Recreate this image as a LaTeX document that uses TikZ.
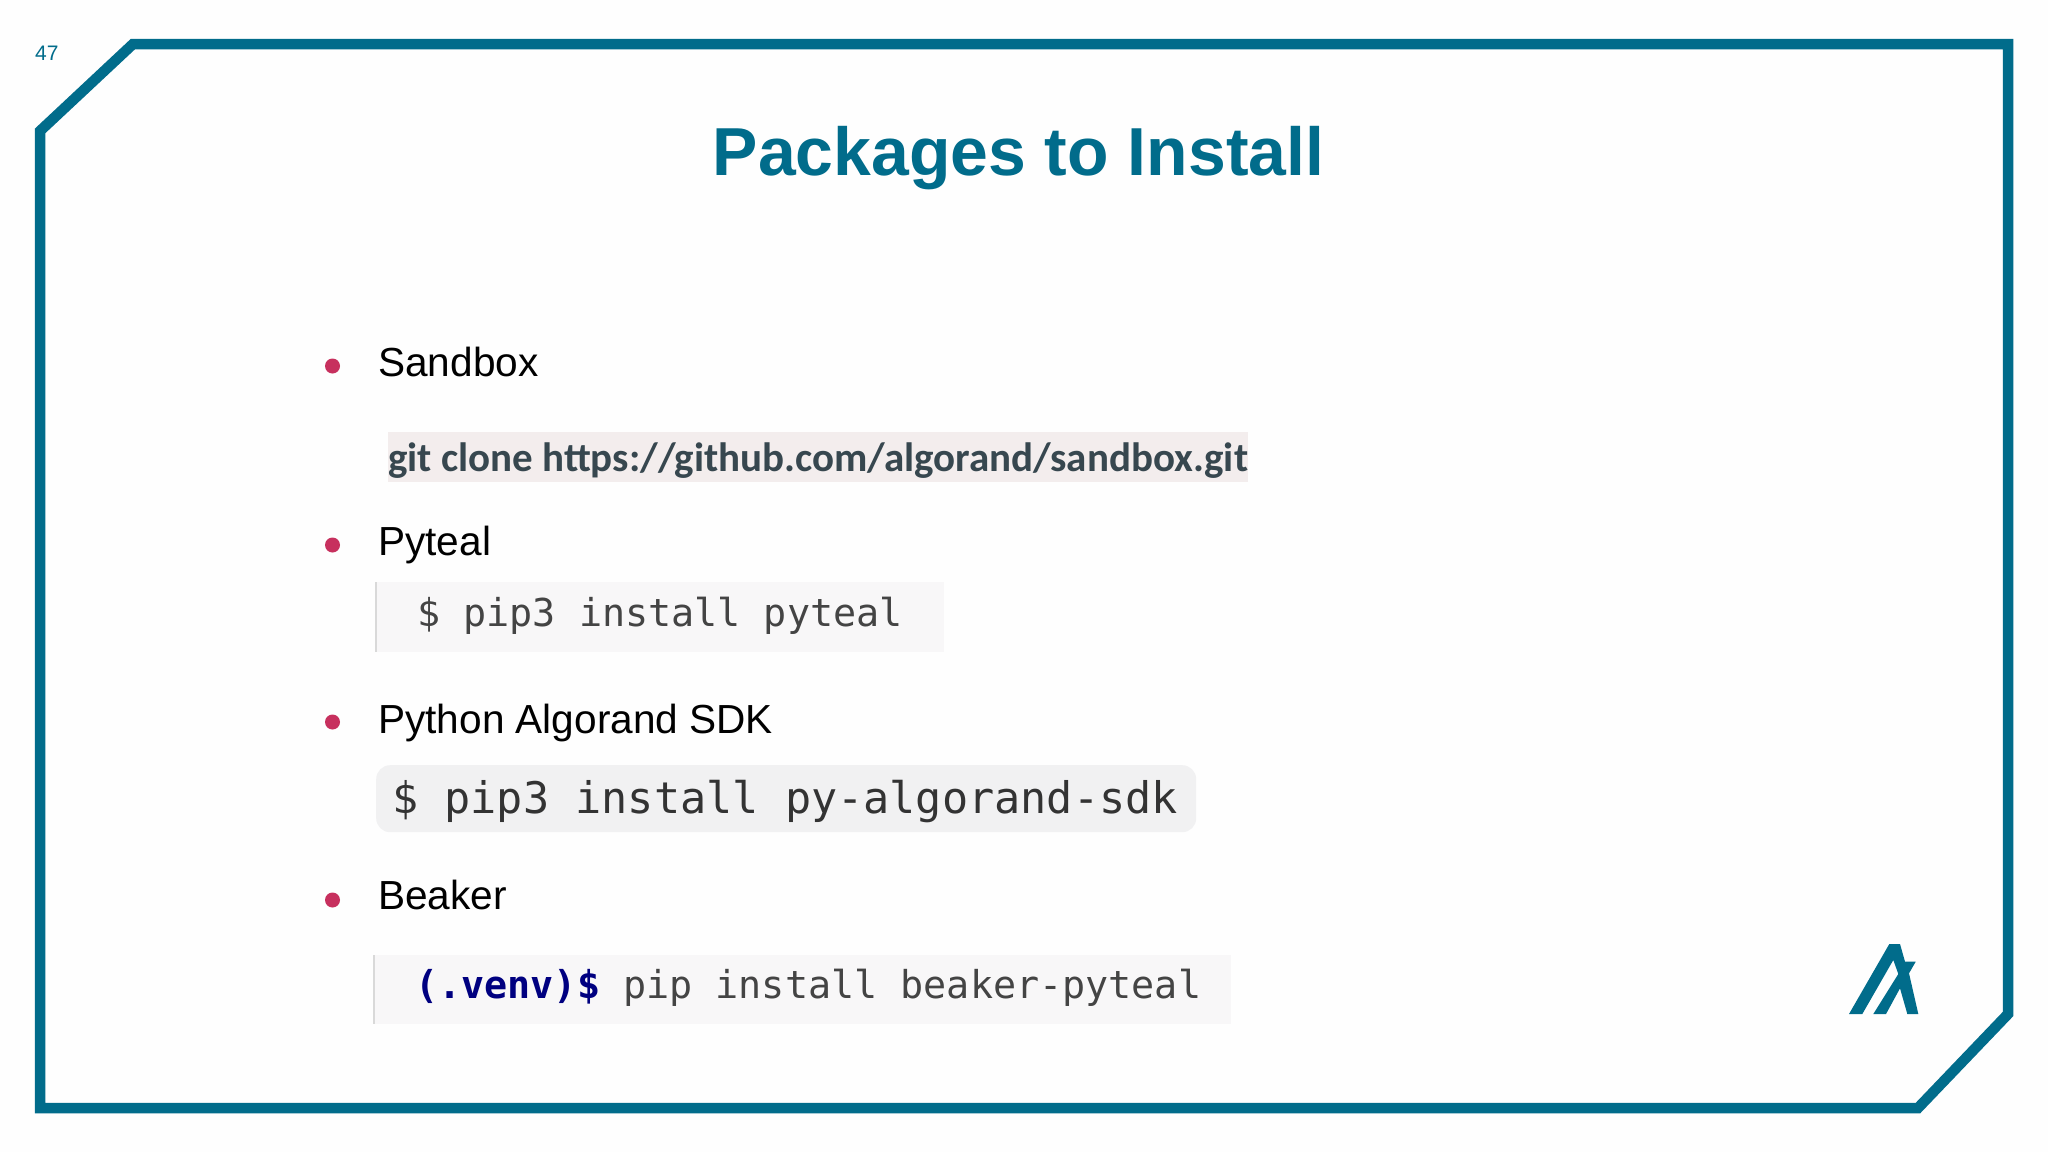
\documentclass[tikz,border=0pt]{standalone}
\usepackage{fontspec}
\setmainfont{Liberation Sans}
\newfontfamily\codefont{DejaVu Sans Mono}
\newfontfamily\gitfont{Carlito}
\definecolor{frameteal}{HTML}{016C8B}
\definecolor{bulletred}{HTML}{C7305E}
\definecolor{gitfill}{HTML}{F3EDED}
\definecolor{gittext}{HTML}{37474F}
\definecolor{codefill}{HTML}{F8F7F8}
\definecolor{sdkfill}{HTML}{F1F1F2}
\definecolor{codetext}{HTML}{444444}
\definecolor{promptblue}{HTML}{000080}
\definecolor{slidebg}{HTML}{FEFEFE}
\tikzset{
  bulletdot/.style={circle, fill=bulletred, minimum size=15pt, inner sep=0pt},
  itemtext/.style={anchor=base west, inner sep=0pt, font=\fontsize{40.6}{48}\selectfont},
  codebox/.style={anchor=north west, inner sep=0pt, fill=codefill},
  codeline/.style={anchor=base west, inner sep=0pt, text=codetext, font=\codefont\fontsize{38.4}{46}\selectfont}
}
\begin{document}
\begin{tikzpicture}[x=1pt, y=-1pt]
  \useasboundingbox (0,0) rectangle (2048,1152);
  \fill[slidebg] (0,0) rectangle (2048,1152);

  \draw[frameteal, line width=10.5pt, miter limit=4]
    (133,44) -- (2008,44) -- (2008,1014) -- (1918,1108) -- (40,1108) -- (40,131) -- cycle;
  \fill[frameteal]
    (1849,1014) -- (1889.3,944) -- (1900,944) -- (1905,961.7) -- (1915.7,961.7)
    -- (1909,973.3) -- (1918.3,1014) -- (1907.3,1014) -- (1900,988.3) -- (1886,1014)
    -- (1873.3,1014) -- (1898.3,974) -- (1893.3,960) -- (1862.3,1014) -- cycle;

  \node[anchor=base west, inner sep=0pt, text=frameteal, font=\fontsize{21}{25}\selectfont] (pagenum) at (35,60) {47};
  \node[anchor=base, inner sep=0pt, text=frameteal, font=\bfseries\fontsize{67.9}{80}\selectfont] (title) at (1018.5,175) {Packages to Install};

  \node[bulletdot] (b1) at (332.5,366) {};
  \node[bulletdot] (b2) at (332.5,545) {};
  \node[bulletdot] (b3) at (332.5,722) {};
  \node[bulletdot] (b4) at (332.5,900) {};

  \node[itemtext] (sandbox) at (378,376) {Sandbox};
  \node[itemtext] (pyteal) at (378,555) {Pyteal};
  \node[itemtext] (sdk) at (378,733) {Python Algorand SDK};
  \node[itemtext] (beaker) at (378,909) {Beaker};

  \node[codebox, fill=gitfill, minimum width=860pt, minimum height=50pt] (gitbox) at (388,432) {};
  \node[codebox, minimum width=568pt, minimum height=70pt] (pytealbox) at (376,582) {};
  \node[codebox, fill=sdkfill, rounded corners=14pt, minimum width=820pt, minimum height=67pt] (sdkbox) at (376,765) {};
  \node[codebox, minimum width=857pt, minimum height=69pt] (beakerbox) at (374,955) {};
  \draw[black!15, line width=2.5pt] (pytealbox.north west) -- (pytealbox.south west);
  \draw[black!15, line width=2.5pt] (beakerbox.north west) -- (beakerbox.south west);

  \node[anchor=base west, inner sep=0pt, text=gittext, font=\gitfont\bfseries\fontsize{41}{48}\selectfont] (gitcmd) at (388,471) {git clone https://github.com/algorand/sandbox.git};
  \node[codeline] (pytealcmd) at (417,626) {\$ pip3 install pyteal};
  \node[codeline, text=black!80, font=\codefont\fontsize{43.5}{52}\selectfont] (sdkcmd) at (392,813) {\$ pip3 install py-algorand-sdk};
  \node[codeline] (beakercmd) at (415,998) {\textcolor{promptblue}{\bfseries(.venv)\$} pip install beaker-pyteal};
\end{tikzpicture}
\end{document}
